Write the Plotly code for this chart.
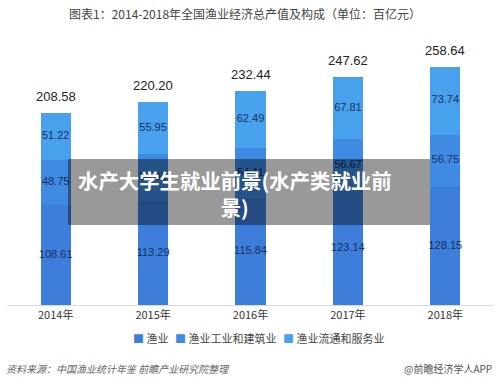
import plotly.graph_objects as go

years = ["2014年", "2015年", "2016年", "2017年", "2018年"]
fishery = [108.61, 113.29, 115.84, 123.14, 128.15]
industry = [48.75, 50.96, 54.11, 56.67, 56.75]
service = [51.22, 55.95, 62.49, 67.81, 73.74]
totals = [208.58, 220.20, 232.44, 247.62, 258.64]

names = ["渔业", "渔业工业和建筑业", "渔业流通和服务业"]
colors = ["#3d7edb", "#3f8ae2", "#48a1ec"]

FONT = "Noto Sans CJK SC, Noto Sans, sans-serif"
NUMFONT = "Arial, Liberation Sans, sans-serif"

W, H = 500, 384
L, R, T, B = 7, 6, 45, 79
PW, PH = W - L - R, H - T - B


def px(x):
    return (x - L) / PW


def py(y):
    return (H - B - y) / PH


fig = go.Figure()
series = [fishery, industry, service]
base = [0.0] * len(years)
for vals, nm, c in zip(series, names, colors):
    fig.add_trace(go.Bar(
        x=years, y=vals, name=nm, marker=dict(color=c, line=dict(width=0)),
        width=0.31, textposition="none", hoverinfo="skip",
    ))
    mids = [b + v / 2 for b, v in zip(base, vals)]
    fig.add_trace(go.Scatter(
        x=years, y=mids, mode="text", text=[f"{v:.2f}" for v in vals],
        textposition="middle center", showlegend=False, hoverinfo="skip",
        textfont=dict(color="#19315e", size=11, family=NUMFONT),
    ))
    base = [b + v for b, v in zip(base, vals)]

total_ann = [
    dict(x=yr, y=t, text=f"{t:.2f}", xref="x", yref="y", yshift=16,
         xanchor="center", yanchor="middle", showarrow=False,
         font=dict(color="#222222", size=13, family=NUMFONT))
    for yr, t in zip(years, totals)
]

legend_ann = []
for nm, c, xpos in zip(names, colors, [131, 173, 281]):
    legend_ann.append(dict(
        text=f"<span style='color:{c}'>■</span> {nm}",
        xref="paper", yref="paper", x=px(xpos), y=py(338),
        xanchor="left", yanchor="middle", showarrow=False,
        font=dict(size=11, color="#444444"),
    ))

fig.update_layout(
    width=W, height=H,
    margin=dict(l=L, r=R, t=T, b=B),
    barmode="stack",
    paper_bgcolor="white", plot_bgcolor="white",
    font=dict(family=FONT, color="#444444"),
    showlegend=False,
    xaxis=dict(showline=True, linecolor="#d9d9d9", linewidth=1, showgrid=False,
               ticks="", tickfont=dict(size=11, color="#333333"), fixedrange=True),
    yaxis=dict(visible=False, range=[0, 282], fixedrange=True),
    shapes=[dict(type="rect", xref="paper", yref="paper", x0=px(68), x1=px(430),
                 y0=py(225), y1=py(159), fillcolor="rgba(0,0,0,0.4)",
                 line=dict(width=0), layer="above")],
    annotations=total_ann + [
        dict(text="图表1：2014-2018年全国渔业经济总产值及构成（单位：百亿元）",
             xref="paper", yref="paper", x=px(245), y=py(14),
             xanchor="center", yanchor="middle", showarrow=False,
             font=dict(size=12, color="#444444")),
        dict(text="<b>水产大学生就业前景(水产类就业前<br>景)</b>",
             xref="paper", yref="paper", x=px(235), y=py(193),
             xanchor="center", yanchor="middle", showarrow=False, align="center",
             font=dict(size=20.4, color="white")),
        dict(text="<i>资料来源：中国渔业统计年鉴 前瞻产业研究院整理</i>",
             xref="paper", yref="paper", x=px(4), y=py(368),
             xanchor="left", yanchor="middle", showarrow=False,
             font=dict(size=10, color="#666666")),
        dict(text="@前瞻经济学人APP",
             xref="paper", yref="paper", x=px(494), y=py(368),
             xanchor="right", yanchor="middle", showarrow=False,
             font=dict(size=10, color="#555555")),
    ] + legend_ann,
)

fig.write_html("out.html", config={"displayModeBar": False, "staticPlot": True},
               post_script="document.body.style.margin='0';document.body.style.overflow='hidden';")
